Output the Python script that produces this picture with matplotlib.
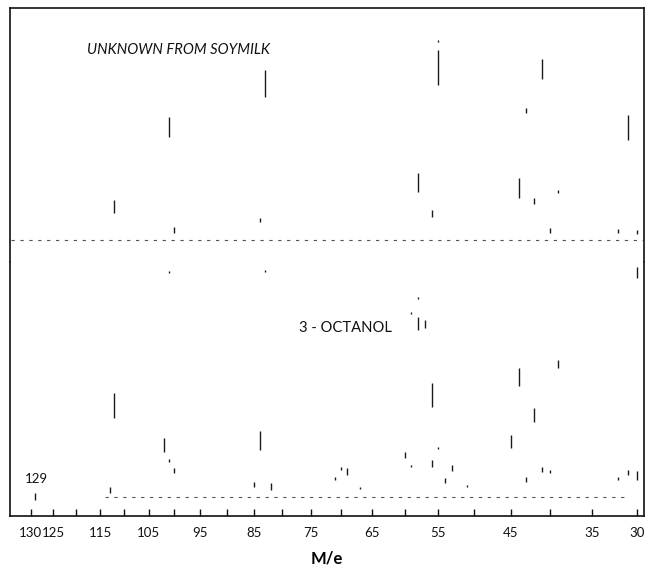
import numpy as np
import matplotlib
matplotlib.use("Agg")
import matplotlib.pyplot as plt

plt.rcParams['font.family'] = ['Lato', 'DejaVu Sans']

# ---------------- data ----------------
# x axis: m/e (magnetic scan -> position linear in sqrt(m/e))
tick_masses = [130, 125, 120, 115, 110, 105, 100, 95, 90, 85, 80, 75, 70,
               65, 60, 55, 50, 45, 40, 35, 30]
tick_labels = ["130", "125", "", "115", "", "105", "", "95", "", "85", "",
               "75", "", "65", "", "55", "", "45", "", "35", "30"]

# Upper trace: "UNKNOWN FROM SOYMILK" (visible trace segments, rel. intensity)
top_mass = [112, 101, 100, 84, 83, 58, 56, 55, 55, 44, 43, 42, 41, 40, 39, 32, 31, 30]
top_low  = [13.5, 51.7, 3.5, 9.0, 71.3, 24.0, 11.7, 77.5, 99.0, 21.0, 63.5, 18.0, 80.5, 3.5, 23.5, 3.5, 50.0, 3.0]
top_high = [20.0, 61.7, 6.5, 11.0, 85.0, 33.5, 15.0, 95.0, 100.0, 31.0, 66.0, 21.0, 90.3, 6.0, 25.0, 5.5, 62.5, 5.0]

# Lower trace: "3 - OCTANOL"
bot_mass = [129, 113, 112, 102, 101, 101, 100, 85, 84, 83, 82, 71, 70, 69, 67,
            60, 59, 59, 58, 58, 57, 56, 56, 55, 54, 53, 51, 45, 44, 43, 42,
            41, 40, 39, 32, 31, 30, 30]
bot_low  = [-1.5, 2.0, 39.5, 22.5, 112.0, 17.5, 12.0, 5.0, 23.5, 112.5, 3.5, 8.5, 13.5, 11.0, 4.0,
            19.3, 91.5, 15.0, 83.5, 99.0, 84.5, 45.0, 15.0, 24.0, 7.0, 13.0, 5.0, 24.3, 55.5, 7.5, 37.7,
            12.7, 12.0, 64.3, 8.5, 11.0, 109.5, 8.5]
bot_high = [2.0, 5.0, 52.0, 29.5, 113.0, 19.0, 14.5, 7.5, 33.0, 113.5, 7.0, 10.0, 15.0, 14.5, 5.0,
            22.5, 92.5, 16.0, 90.0, 100.0, 88.5, 57.0, 18.5, 25.0, 9.5, 16.0, 6.0, 31.0, 64.3, 10.0, 44.3,
            15.0, 13.5, 68.5, 10.0, 13.5, 115.0, 13.0]

top_baseline = [134.5, 29.3]
bot_baseline = [114.0, 31.0]

# ---------------- figure ----------------
W, H = 647, 567
fig = plt.figure(figsize=(W / 100, H / 100), dpi=100)
fig.patch.set_facecolor('white')

L, R = 10, 644
ax_top = fig.add_axes([L / W, 1 - 262 / H, (R - L) / W, 254 / H])
ax_bot = fig.add_axes([L / W, 1 - 516 / H, (R - L) / W, 254 / H])

fwd = lambda m: np.sqrt(np.clip(m, 0, None))
inv = lambda s: np.asarray(s) ** 2

for ax in (ax_top, ax_bot):
    ax.set_xscale('function', functions=(fwd, inv))
    ax.set_xlim(134.66, 29.23)
    ax.set_facecolor('white')
    for sp in ax.spines.values():
        sp.set_linewidth(1.2)
        sp.set_color('#111111')

ax_top.set_ylim(-11, 116)
ax_bot.set_ylim(-9.5, 117.5)

ax_top.spines['bottom'].set_visible(False)
ax_bot.spines['top'].set_visible(False)
ax_top.set_xticks([])
ax_top.set_yticks([])
ax_bot.set_yticks([])

ax_bot.set_xticks(tick_masses)
ax_bot.set_xticklabels(tick_labels)
ax_bot.tick_params(axis='x', direction='in', length=5, width=1.0,
                   labelsize=9.5, pad=8, colors='#111111')
ax_bot.set_xlabel('M/e', fontsize=12, fontweight='bold', labelpad=8)

# traces
ax_top.vlines(top_mass, top_low, top_high, colors='#1a1a1a', linewidth=1.0)
ax_bot.vlines(bot_mass, bot_low, bot_high, colors='#1a1a1a', linewidth=1.0)

ax_top.hlines(0, top_baseline[0], top_baseline[1], colors='#555555',
              linewidth=0.8, linestyles=(0, (3, 5)))
ax_bot.hlines(0, bot_baseline[0], bot_baseline[1], colors='#555555',
              linewidth=0.8, linestyles=(0, (3, 5)))

# labels
ax_top.text(0.1215, 0.835, 'UNKNOWN FROM SOYMILK', transform=ax_top.transAxes,
            ha='left', va='center', fontsize=10.6, style='italic', color='#111111')
ax_bot.text(0.4563, 0.739, '3 - OCTANOL', transform=ax_bot.transAxes,
            ha='left', va='center', fontsize=10.6, color='#111111')
ax_bot.text(0.041, 0.1457, '129', transform=ax_bot.transAxes,
            ha='center', va='center', fontsize=9.5, color='#111111')

fig.savefig('out.png', dpi=100, facecolor='white')
